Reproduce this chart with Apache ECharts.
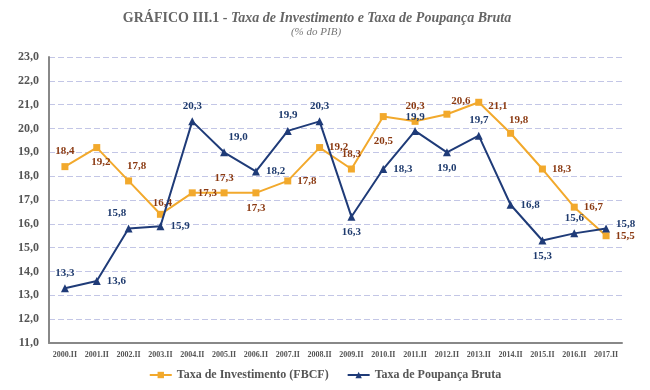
<!DOCTYPE html>
<html><head><meta charset="utf-8">
<script src="https://cdn.jsdelivr.net/npm/echarts@6/dist/echarts.min.js"></script>
<style>html,body{margin:0;padding:0;background:#fff}#c{width:650px;height:390px}</style>
</head><body><div id="c"></div>
<script>
const categories = ['2000.II','2001.II','2002.II','2003.II','2004.II','2005.II','2006.II','2007.II','2008.II','2009.II','2010.II','2011.II','2012.II','2013.II','2014.II','2015.II','2016.II','2017.II'];
const investimento = [18.4,19.2,17.8,16.4,17.3,17.3,17.3,17.8,19.2,18.3,20.5,20.3,20.6,21.1,19.8,18.3,16.7,15.5];
const poupanca = [13.3,13.6,15.8,15.9,20.3,19.0,18.2,19.9,20.3,16.3,18.3,19.9,19.0,19.7,16.8,15.3,15.6,15.8];
const invLabelPos = ['top','bottom','top','top','right','top','bottom','right','right','top','bottom','top','top','right','top','right','right','right'];
const poupLabelPos = ['top','right','top','right','top','top','right','top','top','bottom','right','top','bottom','top','right','bottom','top','right'];
const invLabelOff = [[0,0],[4,0],[8,0],[2,4],[-4,0],[0,0],[0,0],[0,0],[0,0],[0,0],[0,10],[0,0],[14,2],[0,4],[8,2],[0,0],[0,0],[0,0]];
const poupLabelOff = [[0,0],[0,0],[-12,0],[0,0],[0,0],[14,0],[0,0],[0,0],[0,0],[0,0],[0,0],[0,2],[0,0],[0,0],[0,0],[0,0],[0,0],[0,-4]];

const fmt = v => v.toFixed(1).replace('.', ',');
const serif = '"Liberation Serif","DejaVu Serif",serif';

function build(vals, pos, off){
  return vals.map((v,i)=>({value:v, label:{position:pos[i], offset:off[i]}}));
}

const chart = echarts.init(document.getElementById('c'));
chart.setOption({
  animation:false,
  title:[{
    text:'{a|GRÁFICO III.1 - }{b|Taxa de Investimento e Taxa de Poupança Bruta}',
    left:312, top:6, textAlign:'center',
    textStyle:{rich:{
      a:{fontFamily:serif,fontWeight:'bold',fontSize:14,color:'#666'},
      b:{fontFamily:serif,fontWeight:'bold',fontStyle:'italic',fontSize:14,color:'#666'}
    }}
  },{
    text:'(% do PIB)', left:311, top:22, textAlign:'center',
    textStyle:{fontFamily:serif,fontStyle:'italic',fontWeight:'normal',fontSize:11,color:'#777'}
  }],
  legend:{
    bottom:4, left:'center', itemWidth:22, itemHeight:8, itemGap:18,
    textStyle:{fontFamily:serif,fontSize:12,fontWeight:'bold',color:'#555'},
    data:['Taxa de Investimento (FBCF)','Taxa de Poupança Bruta']
  },
  grid:{left:49,right:28,top:57,bottom:47},
  xAxis:{
    type:'category', data:categories, boundaryGap:true,
    axisLine:{lineStyle:{color:'#888',width:2}},
    axisTick:{show:false},
    axisLabel:{fontFamily:serif,fontSize:8,fontWeight:'bold',color:'#555',margin:8,interval:0}
  },
  yAxis:{
    type:'value', min:11, max:23, interval:1,
    axisLine:{show:true,lineStyle:{color:'#888',width:2}},
    axisTick:{show:false},
    axisLabel:{fontFamily:serif,fontSize:12,fontWeight:'bold',color:'#555',formatter:fmt,margin:10},
    splitLine:{lineStyle:{color:'#C3C6E6',type:[6,3],width:1}}
  },
  series:[{
    name:'Taxa de Investimento (FBCF)', type:'line',
    data:build(investimento,invLabelPos,invLabelOff),
    symbol:'rect', symbolSize:7,
    lineStyle:{color:'#F2A92C',width:2}, itemStyle:{color:'#F2A92C'},
    label:{show:true,formatter:p=>fmt(p.value),fontFamily:serif,fontSize:11,fontWeight:'bold',color:'#8B3A12',distance:6},
    z:2
  },{
    name:'Taxa de Poupança Bruta', type:'line',
    data:build(poupanca,poupLabelPos,poupLabelOff),
    symbol:'triangle', symbolSize:8,
    lineStyle:{color:'#1F3B78',width:2}, itemStyle:{color:'#1F3B78'},
    label:{show:true,formatter:p=>fmt(p.value),fontFamily:serif,fontSize:11,fontWeight:'bold',color:'#1F3B6E',distance:6},
    z:3
  }]
});
</script></body></html>
